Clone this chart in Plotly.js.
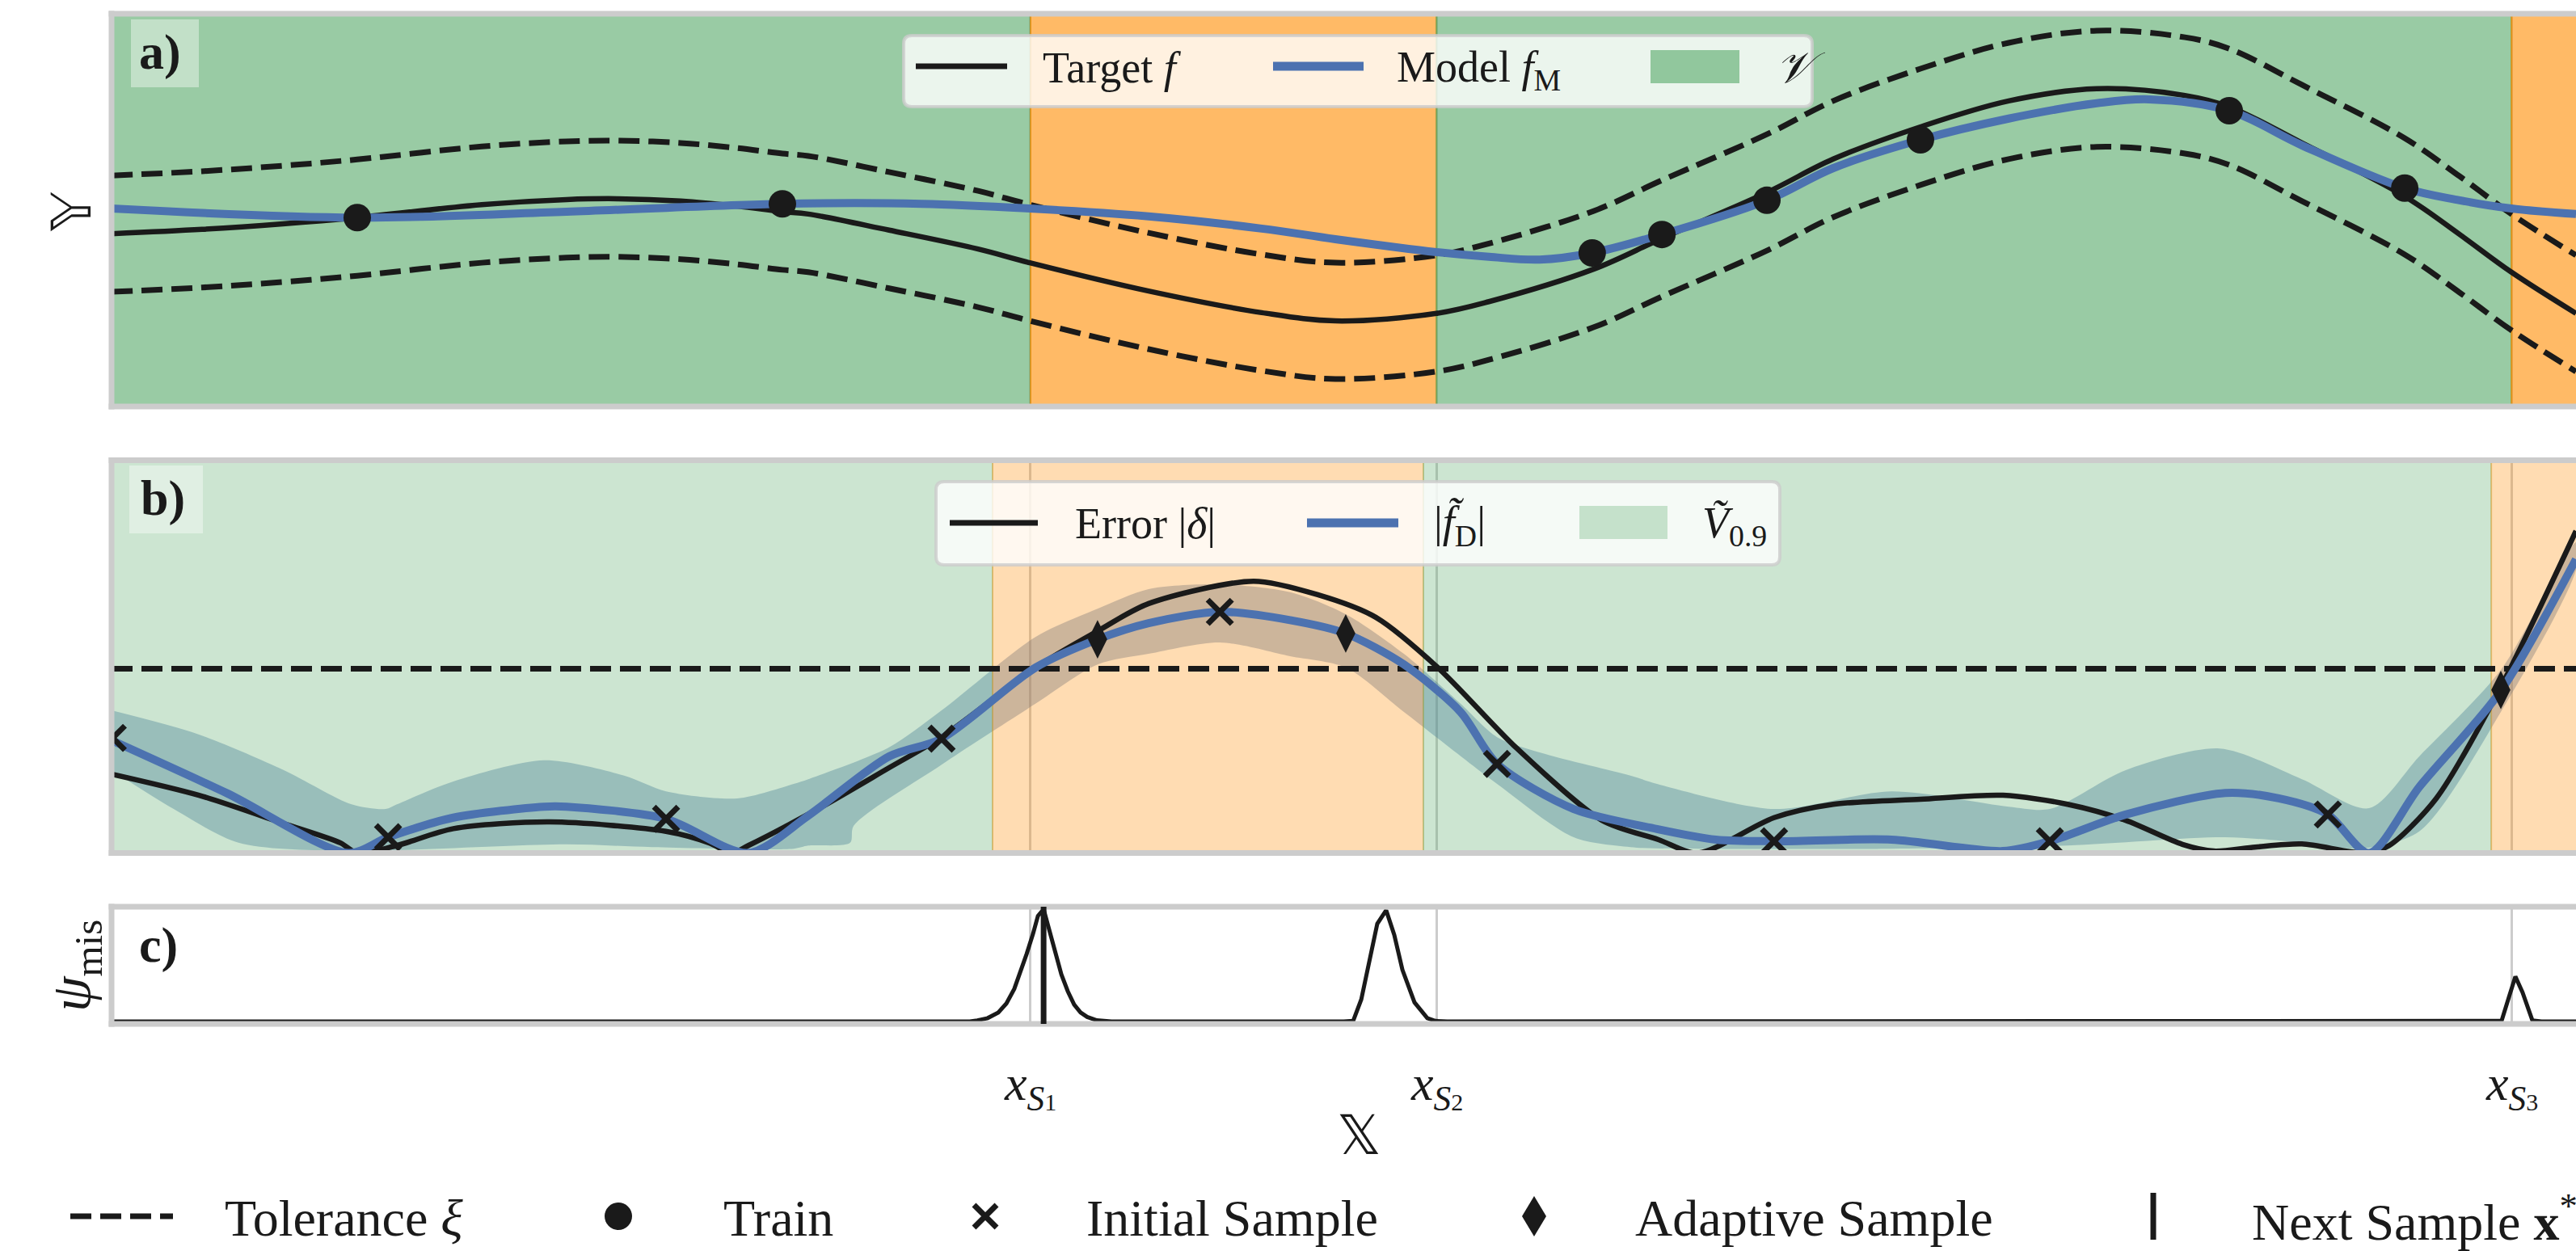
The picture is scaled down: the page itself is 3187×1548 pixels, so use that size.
<!DOCTYPE html>
<html>
<head>
<meta charset="utf-8">
<script src="https://cdn.plot.ly/plotly-3.0.1.min.js"></script>
<style>
  html, body { margin: 0; padding: 0; background: #ffffff; }
  #chart { width: 3187px; height: 1548px; }
</style>
</head>
<body>
<div id="chart"></div>
<script>
// ---------------- DATA ----------------
// Panel a: target function f and model f_M
const targetX = [0, 3.67, 6.95, 9.97, 15.02, 18.46, 20.56, 23.09, 25.39, 27.22, 28.27, 31.55, 35.16, 37.26, 42.08, 46.67, 49.66, 53.76, 55.89, 60.15, 62.91, 67.17, 69.86, 73.40, 76.98, 80.55, 84.13, 85.93, 88.88, 93.05, 95.28, 97.38, 100];
const targetY = [44.0, 45.1, 46.5, 48.1, 51.4, 52.7, 52.9, 52.3, 51.0, 49.6, 49.0, 44.9, 40.1, 36.6, 29.4, 23.9, 21.8, 23.7, 26.7, 35.0, 42.8, 54.5, 63.0, 71.2, 77.8, 80.9, 79.2, 76.3, 67.1, 53.5, 43.8, 34.2, 23.7];
const modelX = [0, 9.97, 18.46, 27.22, 32.86, 37.26, 42.08, 46.67, 49.66, 53.76, 55.89, 57.95, 60.08, 62.91, 67.17, 69.86, 73.40, 76.98, 80.55, 82.68, 85.93, 88.88, 93.05, 95.28, 97.38, 100];
const modelY = [50.4, 48.1, 49.6, 51.6, 51.6, 50.4, 48.4, 45.3, 42.6, 39.3, 38.1, 37.4, 39.1, 43.8, 52.5, 60.7, 67.9, 73.3, 77.2, 78.2, 75.3, 66.5, 55.6, 52.5, 50.4, 49.0];
const tolerance = 14.8;               // xi in panel a units
const trainX = [9.97, 27.22, 60.08, 62.91, 67.17, 73.40, 85.93, 93.05];
const trainY = [48.1, 51.6, 39.1, 43.8, 52.5, 67.9, 75.3, 55.6];
// valid set V (true) / invalid (false) between consecutive edges
const regionEdgesA = [-1, 37.29, 53.76, 97.38, 104];
const regionValidA = [true, false, true, false];

// Panel b: error |delta|, surrogate |f_D| and its 0.9 band
const errorX = [0, 3.55, 6.99, 9.28, 9.97, 11.58, 13.87, 17.78, 22.50, 24.24, 25.16, 25.84, 28.83, 31.55, 33.68, 37.49, 40.01, 42.08, 46.34, 48.97, 51.30, 53.82, 57.03, 60.48, 62.77, 64.38, 67.46, 69.86, 73.40, 76.75, 79.37, 81.73, 84.03, 85.31, 86.98, 88.88, 91.47, 92.42, 94.33, 96.95, 100];
const errorY = [20.1, 14.7, 7.5, 2.6, 0, 1.9, 6.2, 7.9, 5.5, 2.6, 0, 1.9, 11.8, 21.7, 29.5, 47.2, 56.5, 63.5, 69.2, 65.7, 60.0, 47.2, 26.6, 8.3, 3.4, 0, 9.0, 12.4, 13.7, 14.7, 12.4, 8.3, 2.2, 0.5, 1.5, 2.3, 0, 1.9, 13.9, 42.3, 82.0];
const surrogateX = [0, 4.69, 9.61, 11.22, 13.87, 17.55, 18.46, 22.50, 25.84, 28.27, 31.55, 33.68, 37.49, 40.01, 42.08, 44.97, 47.82, 50.08, 52.44, 54.74, 56.22, 59.33, 62.71, 65.10, 67.46, 72.22, 76.75, 78.65, 81.73, 85.77, 87.94, 89.93, 91.60, 93.64, 96.95, 100];
const surrogateY = [28.7, 15.2, 0, 4.0, 9.0, 11.8, 11.8, 8.7, 0, 9.5, 24.6, 29.1, 47.2, 54.4, 58.5, 61.4, 59.3, 55.9, 48.0, 35.9, 22.7, 11.2, 6.1, 3.4, 3.0, 3.4, 0.5, 3.0, 9.8, 15.3, 13.9, 9.8, 0, 16.8, 41.3, 74.8];
const bandUpperX = [0, 3.48, 6.99, 9.74, 11.12, 11.58, 13.87, 17.55, 20.80, 22.50, 25.39, 27.68, 28.27, 31.55, 33.68, 37.49, 40.01, 42.08, 44.97, 47.82, 50.08, 52.44, 54.74, 56.22, 58.18, 61.63, 62.71, 67.46, 72.22, 76.98, 78.65, 81.73, 85.54, 88.88, 91.60, 93.64, 96.95, 100];
const bandUpperY = [36.3, 30.3, 21.1, 12.4, 11.2, 12.4, 18.2, 23.6, 19.7, 15.7, 13.9, 17.6, 18.8, 26.9, 36.3, 55.0, 62.2, 67.2, 68.4, 66.4, 60.8, 50.7, 38.0, 29.5, 25.2, 19.7, 17.6, 11.2, 15.7, 11.8, 11.2, 21.1, 26.6, 18.8, 11.4, 24.6, 46.6, 79.1];
const bandLowerX = [0, 2.52, 5.15, 9.28, 18.46, 21.94, 27.68, 28.27, 29.97, 30.11, 33.68, 37.49, 40.01, 42.08, 44.97, 47.82, 50.08, 52.44, 56.22, 59.33, 61.63, 64.38, 72.22, 79.37, 85.77, 88.88, 91.24, 93.64, 96.95, 100];
const bandLowerY = [21.1, 11.2, 2.6, 0.5, 2.2, 1.5, 1.1, 1.9, 2.6, 6.9, 22.5, 38.0, 48.0, 50.7, 53.6, 50.1, 47.2, 35.9, 17.6, 4.0, 1.5, 1.1, 1.1, 1.9, 4.0, 2.6, 1.1, 5.5, 35.9, 72.1];
const errorTolerance = 46.9;          // xi in panel b units
const initialX = [0.05, 11.22, 22.50, 33.68, 44.97, 56.22, 67.46, 78.65, 89.93];
const initialY = [29.3, 4.0, 8.7, 29.1, 61.4, 22.7, 3.0, 3.0, 9.8];
const adaptiveX = [40.01, 50.08, 96.95];
const adaptiveY = [54.4, 55.9, 41.5];
const regionEdgesB = [-1, 35.75, 53.23, 96.56, 104];
const regionValidB = [true, false, true, false];

// Panel c: misclassification probability psi_mis
const psiX = [0, 34.83, 35.13, 35.55, 35.98, 36.31, 36.63, 36.87, 37.13, 37.39, 37.59, 37.82, 38.05, 38.31, 38.54, 38.80, 39.06, 39.32, 39.59, 39.98, 40.57, 50.00, 50.38, 50.71, 51.03, 51.36, 51.72, 52.05, 52.38, 52.87, 53.39, 53.72, 54.20, 96.70, 96.98, 97.31, 97.54, 97.83, 98.23, 98.60, 100];
const psiY = [0, 0, 0.01, 0.03, 0.08, 0.16, 0.29, 0.43, 0.60, 0.78, 0.94, 1.00, 0.82, 0.60, 0.42, 0.27, 0.15, 0.08, 0.04, 0.01, 0, 0, 0.005, 0.196, 0.53, 0.87, 0.99, 0.77, 0.46, 0.17, 0.03, 0.005, 0, 0, 0.005, 0.24, 0.40, 0.26, 0.01, 0, 0];
const nextSampleX = 37.82;

// x ticks (domain boundaries x_S)
const sampleTicks = [37.29, 53.76, 97.38];
const sampleTickIndex = ['1', '2', '3'];
const xRange = [0, 100];

// ---------------- STYLE / LAYOUT ----------------
const W = 3187, H = 1548;
const fx = p => p / W;
const fy = p => 1 - p / H;
const INK = '#1a1a1a';
const BLUE = '#4c72b0';
const GREEN_A = 'rgba(85,168,104,0.6)';
const ORANGE_A = 'rgba(255,140,0,0.6)';
const GREEN_B = 'rgba(85,168,104,0.3)';
const ORANGE_B = 'rgba(255,140,0,0.3)';
const SERIF = 'Liberation Serif, DejaVu Serif, DejaVu Sans, serif';
const DASH = '26px,11px';

const traces = [];
function regionRects(edges, valid, green, orange, xa, ya) {
  for (let i = 0; i < valid.length; i++) {
    const c = valid[i] ? green : orange;
    traces.push({
      x: [edges[i], edges[i + 1], edges[i + 1], edges[i], edges[i]],
      y: [-10, -10, 110, 110, -10],
      mode: 'lines', fill: 'toself', fillcolor: c,
      line: { color: c, width: 2 }, xaxis: xa, yaxis: ya,
      hoverinfo: 'skip'
    });
  }
}

// ---- panel a ----
regionRects(regionEdgesA, regionValidA, GREEN_A, ORANGE_A, 'x', 'y');
traces.push({ x: targetX, y: targetY.map(v => v + tolerance), mode: 'lines', xaxis: 'x', yaxis: 'y',
  line: { color: INK, width: 7, dash: DASH, shape: 'spline', smoothing: 1 }, hoverinfo: 'skip' });
traces.push({ x: targetX, y: targetY.map(v => v - tolerance), mode: 'lines', xaxis: 'x', yaxis: 'y',
  line: { color: INK, width: 7, dash: DASH, shape: 'spline', smoothing: 1 }, hoverinfo: 'skip' });
traces.push({ x: targetX, y: targetY, mode: 'lines', xaxis: 'x', yaxis: 'y',
  line: { color: INK, width: 6.5, shape: 'spline', smoothing: 1 }, hoverinfo: 'skip' });
traces.push({ x: modelX, y: modelY, mode: 'lines', xaxis: 'x', yaxis: 'y',
  line: { color: BLUE, width: 10, shape: 'spline', smoothing: 1 }, hoverinfo: 'skip' });
traces.push({ x: trainX, y: trainY, mode: 'markers', xaxis: 'x', yaxis: 'y',
  marker: { color: INK, size: 34, symbol: 'circle' }, hoverinfo: 'skip' });

// ---- panel b ----
traces.push({ x: bandUpperX.concat(bandLowerX.slice().reverse()),
  y: bandUpperY.concat(bandLowerY.slice().reverse()),
  mode: 'lines', fill: 'toself', fillcolor: 'rgba(76,114,176,0.4)',
  line: { width: 0, shape: 'spline', smoothing: 0.8 }, xaxis: 'x2', yaxis: 'y2', hoverinfo: 'skip' });
regionRects(regionEdgesB, regionValidB, GREEN_B, ORANGE_B, 'x2', 'y2');
traces.push({ x: xRange, y: [errorTolerance, errorTolerance], mode: 'lines', xaxis: 'x2', yaxis: 'y2',
  line: { color: INK, width: 7, dash: DASH }, hoverinfo: 'skip' });
traces.push({ x: errorX, y: errorY, mode: 'lines', xaxis: 'x2', yaxis: 'y2',
  line: { color: INK, width: 6.5, shape: 'spline', smoothing: 0.8 }, hoverinfo: 'skip' });
traces.push({ x: surrogateX, y: surrogateY, mode: 'lines', xaxis: 'x2', yaxis: 'y2',
  line: { color: BLUE, width: 10, shape: 'spline', smoothing: 0.8 }, hoverinfo: 'skip' });
traces.push({ x: initialX, y: initialY, mode: 'markers', xaxis: 'x2', yaxis: 'y2',
  marker: { symbol: 'x-thin', size: 30, color: INK, line: { color: INK, width: 7 } }, hoverinfo: 'skip' });
traces.push({ x: adaptiveX, y: adaptiveY, mode: 'markers', xaxis: 'x2', yaxis: 'y2',
  marker: { symbol: 'diamond-tall', size: 34, color: INK }, hoverinfo: 'skip' });

// ---- panel c ----
traces.push({ x: psiX, y: psiY, mode: 'lines', xaxis: 'x3', yaxis: 'y3',
  line: { color: INK, width: 5 }, hoverinfo: 'skip' });

traces.forEach(t => { t.showlegend = false; });

function xAxis(anchor) {
  return { domain: [fx(138), 1], range: xRange, anchor: anchor, tickvals: sampleTicks,
    showticklabels: false, ticks: '', showgrid: true, gridcolor: '#cccccc', gridwidth: 3,
    zeroline: false, showline: false, fixedrange: true };
}
function yAxis(anchor, top, bottom, range) {
  return { domain: [fy(bottom), fy(top)], range: range, anchor: anchor, showticklabels: false,
    ticks: '', showgrid: false, zeroline: false, showline: false, fixedrange: true };
}

const shapes = [];
// panel frames (light grey spines on top, bottom and left)
const BORDER = '#cccccc';
[[17, 503], [569.5, 1055.5], [1122, 1267]].forEach(([t, b]) => {
  shapes.push({ type: 'line', xref: 'paper', yref: 'paper', x0: fx(134.5), x1: 1, y0: fy(t), y1: fy(t), line: { color: BORDER, width: 7 }, layer: 'above' });
  shapes.push({ type: 'line', xref: 'paper', yref: 'paper', x0: fx(134.5), x1: 1, y0: fy(b), y1: fy(b), line: { color: BORDER, width: 7 }, layer: 'above' });
  shapes.push({ type: 'line', xref: 'paper', yref: 'paper', x0: fx(138), x1: fx(138), y0: fy(t - 3.5), y1: fy(b + 3.5), line: { color: BORDER, width: 7 }, layer: 'above' });
});
// next sample vertical line
shapes.push({ type: 'line', xref: 'x3', yref: 'y3 domain', x0: nextSampleX, x1: nextSampleX, y0: 0, y1: 1, line: { color: INK, width: 7 }, layer: 'above' });

// panel label boxes
function rectPx(x0, y0, x1, y1, fill) {
  shapes.push({ type: 'rect', xref: 'paper', yref: 'paper', x0: fx(x0), x1: fx(x1), y0: fy(y1), y1: fy(y0), fillcolor: fill, line: { width: 0 }, layer: 'above' });
}
rectPx(162, 24, 246, 108, 'rgba(255,255,255,0.4)');
rectPx(160, 576, 251, 660, 'rgba(255,255,255,0.4)');

function rrect(x0, y0, x1, y1, r) {
  const X = fx, Y = fy;
  return `M${X(x0 + r)},${Y(y0)} L${X(x1 - r)},${Y(y0)} Q${X(x1)},${Y(y0)} ${X(x1)},${Y(y0 + r)} ` +
    `L${X(x1)},${Y(y1 - r)} Q${X(x1)},${Y(y1)} ${X(x1 - r)},${Y(y1)} L${X(x0 + r)},${Y(y1)} ` +
    `Q${X(x0)},${Y(y1)} ${X(x0)},${Y(y1 - r)} L${X(x0)},${Y(y0 + r)} Q${X(x0)},${Y(y0)} ${X(x0 + r)},${Y(y0)} Z`;
}
function legendBox(x0, y0, x1, y1) {
  shapes.push({ type: 'path', xref: 'paper', yref: 'paper', path: rrect(x0, y0, x1, y1, 10),
    fillcolor: 'rgba(255,255,255,0.8)', line: { color: 'rgba(204,204,204,0.8)', width: 4 }, layer: 'above' });
}
function legLine(x0, x1, y, color, width, dash) {
  shapes.push({ type: 'line', xref: 'paper', yref: 'paper', x0: fx(x0), x1: fx(x1), y0: fy(y), y1: fy(y),
    line: { color: color, width: width, dash: dash || 'solid' }, layer: 'above' });
}

// legend a
legendBox(1118, 44, 2242, 132);
legLine(1133, 1246, 82, INK, 7);
legLine(1575, 1687, 82, BLUE, 11);
rectPx(2042, 62, 2152, 103, GREEN_A);
// legend b
legendBox(1158, 596, 2202, 699);
legLine(1175, 1284, 647, INK, 7);
legLine(1617, 1730, 647, BLUE, 11);
rectPx(1954, 626, 2063, 667, GREEN_B);

// bottom legend glyphs
const LY = 1505;
legLine(87, 214, LY, INK, 7, DASH);
shapes.push({ type: 'circle', xref: 'paper', yref: 'paper', xsizemode: 'pixel', ysizemode: 'pixel',
  xanchor: fx(765), yanchor: fy(LY), x0: -17, x1: 17, y0: -17, y1: 17, fillcolor: INK, line: { width: 0 }, layer: 'above' });
shapes.push({ type: 'path', xref: 'paper', yref: 'paper', xsizemode: 'pixel', ysizemode: 'pixel',
  xanchor: fx(1219), yanchor: fy(LY), path: 'M-14,-14L14,14M-14,14L14,-14', line: { color: INK, width: 7 }, layer: 'above' });
shapes.push({ type: 'path', xref: 'paper', yref: 'paper', xsizemode: 'pixel', ysizemode: 'pixel',
  xanchor: fx(1898), yanchor: fy(LY), path: 'M0,-25L15,0L0,25L-15,0Z', fillcolor: INK, line: { width: 0 }, layer: 'above' });
shapes.push({ type: 'path', xref: 'paper', yref: 'paper', xsizemode: 'pixel', ysizemode: 'pixel',
  xanchor: fx(2664), yanchor: fy(LY), path: 'M0,-29L0,29', line: { color: INK, width: 7 }, layer: 'above' });

// ---------------- ANNOTATIONS ----------------
const ann = [];
function txt(text, xp, yp, size, opts) {
  ann.push(Object.assign({ text: text, xref: 'paper', yref: 'paper', x: fx(xp), y: fy(yp),
    xanchor: 'left', yanchor: 'middle', showarrow: false,
    font: { family: SERIF, size: size, color: INK } }, opts || {}));
}
txt('<b>a)</b>', 170, 64, 62);
txt('<b>b)</b>', 172, 616, 62);
txt('<b>c)</b>', 170, 1169, 62);
txt('𝕐', 88, 262, 68, { xanchor: 'center', textangle: -90, font: { family: 'DejaVu Sans, sans-serif', size: 68, color: INK } });
txt('<i>ψ</i><sub>mis</sub>', 93, 1195, 70, { xanchor: 'center', textangle: -90 });
txt('𝕏', 1681, 1404, 68, { xanchor: 'center', font: { family: 'DejaVu Sans, sans-serif', size: 68, color: INK } });
sampleTicks.forEach((v, i) => {
  ann.push({ text: '<i>x</i><sub><i>S</i></sub><sub><span style="font-size:30px;fill:#1a1a1a">' + sampleTickIndex[i] + '</span></sub>',
    xref: 'x3', yref: 'paper', x: v, y: fy(1344),
    xanchor: 'center', yanchor: 'middle', showarrow: false, font: { family: SERIF, size: 62, color: INK } });
});
// legend a texts
txt('Target <i>f</i>', 1288, 84, 54);
txt('Model <i>f</i><sub>M</sub>', 1726, 86, 54);
txt('<i>𝒱</i>', 2195, 84, 54);
// legend b texts
txt('Error |<i>δ</i>|', 1328, 648, 54);
txt('|<i>f̃</i><sub>D</sub>|', 1772, 650, 54);
txt('<i>Ṽ</i><sub>0.9</sub>', 2104, 650, 54);
// bottom legend texts
txt('Tolerance <i>ξ</i>', 276, 1507, 64);
txt('Train', 893, 1507, 64);
txt('Initial Sample', 1342, 1507, 64);
txt('Adaptive Sample', 2021, 1507, 64);
txt('Next Sample <b>x</b><sup>*</sup>', 2784, 1507, 64);

const layout = {
  width: W, height: H, autosize: false,
  margin: { l: 0, r: 0, t: 0, b: 0, pad: 0 },
  paper_bgcolor: '#ffffff', plot_bgcolor: '#ffffff',
  font: { family: SERIF, color: INK, size: 54 },
  showlegend: false, hovermode: false,
  xaxis: xAxis('y'), yaxis: yAxis('x', 17, 503, [0, 100]),
  xaxis2: xAxis('y2'), yaxis2: yAxis('x2', 569.5, 1055.5, [0, 100]),
  xaxis3: xAxis('y3'), yaxis3: yAxis('x3', 1122, 1267, [-0.0216, 1.0216]),
  shapes: shapes, annotations: ann
};

Plotly.newPlot('chart', traces, layout, { displayModeBar: false });
</script>
</body>
</html>
